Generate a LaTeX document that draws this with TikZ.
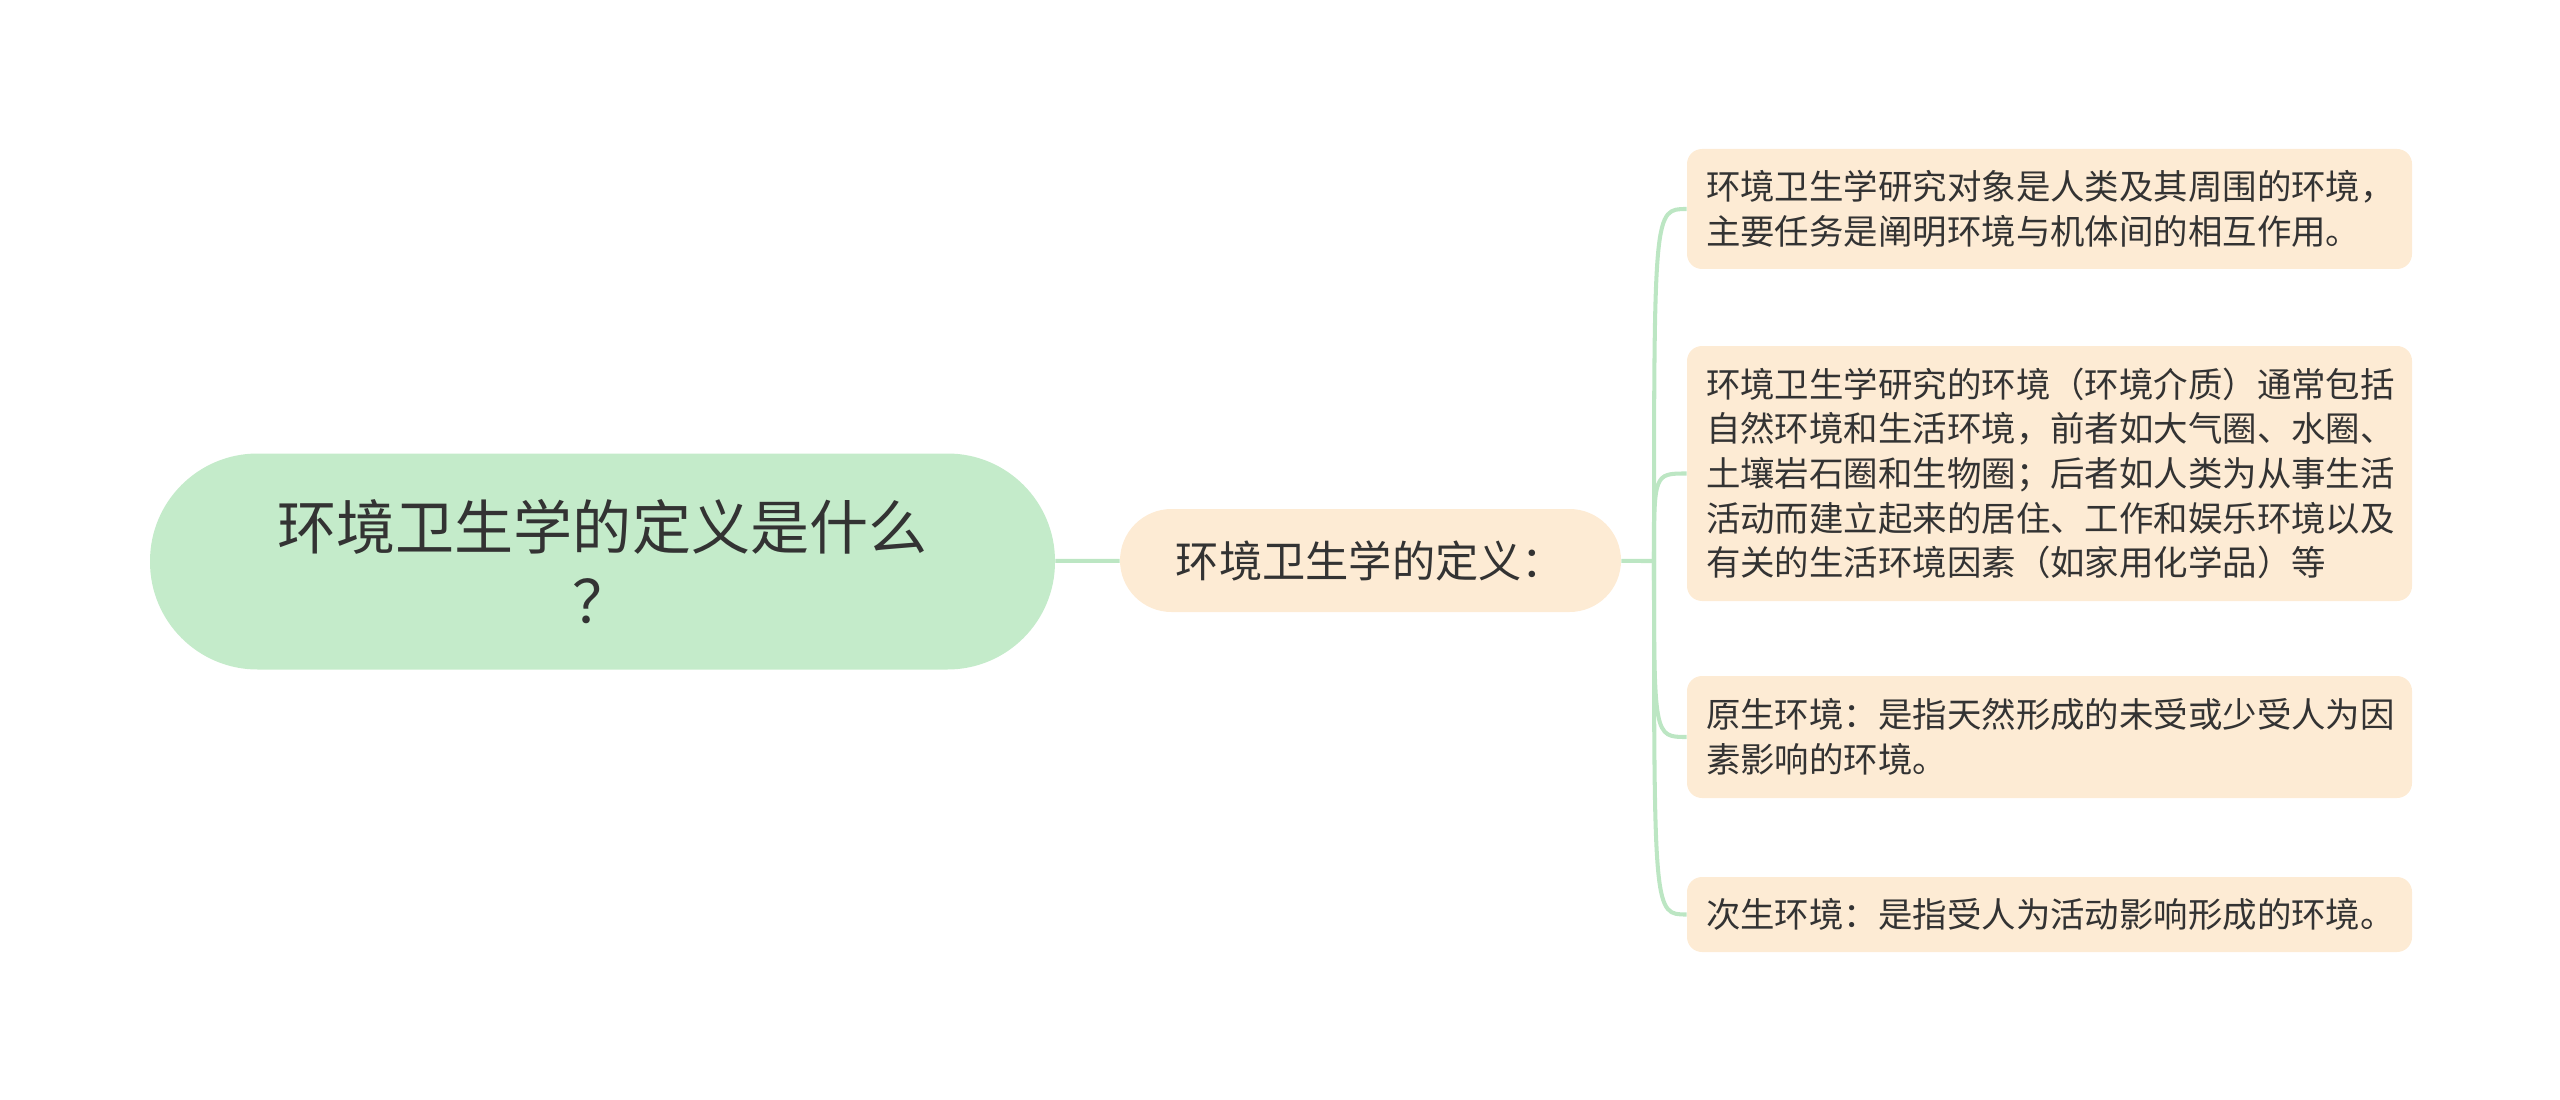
\documentclass[tikz,border=0pt]{standalone}
\usepackage{fontspec}
\setmainfont{Noto Sans CJK SC}
\usepackage{tikz}
\usetikzlibrary{positioning}

\definecolor{rootgreen}{HTML}{C4EBCA}
\definecolor{leafpeach}{HTML}{FDEBD4}
\definecolor{linkgreen}{HTML}{BCE6C3}
\definecolor{textgray}{HTML}{333333}

\begin{document}
\begin{tikzpicture}[
            root/.style = {rectangle, fill=rootgreen, rounded corners=2.15cm, minimum width=18.1cm, minimum height=4.32cm, align=center, text=textgray, font=\fontsize{33.6pt}{42pt}\selectfont},
            topic/.style = {rectangle, fill=leafpeach, rounded corners=1.03cm, minimum width=10.02cm, minimum height=2.06cm, text=textgray, font=\fontsize{24.6pt}{28pt}\selectfont},
            leaf/.style = {rectangle, fill=leafpeach, rounded corners=0.3cm, text width=13.74cm, inner xsep=0.38cm, inner ysep=0.1cm, align=left, text=textgray, font=\fontsize{19.6pt}{25.4pt}\selectfont},
            link/.style = {draw=linkgreen, line width=2.3pt},
        ]
            \useasboundingbox (0,0) rectangle (51.2,-22);

            % Root and topic
            \node[root] (root) at (12.05,-11.23) {环境卫生学的定义是什么\\？};
            \node[topic] (def) at (27.41,-11.21) {环境卫生学的定义：};

            % Leaves
            \node[leaf, minimum height=2.4cm] (leaf1) at (40.99,-4.18) {环境卫生学研究对象是人类及其周围的环境，\\主要任务是阐明环境与机体间的相互作用。};
            \node[leaf, minimum height=5.1cm] (leaf2) at (40.99,-9.47) {环境卫生学研究的环境（环境介质）通常包括\\自然环境和生活环境，前者如大气圈、水圈、\\土壤岩石圈和生物圈；后者如人类为从事生活\\活动而建立起来的居住、工作和娱乐环境以及\\有关的生活环境因素（如家用化学品）等};
            \node[leaf, minimum height=2.44cm] (leaf3) at (40.99,-14.74) {原生环境：是指天然形成的未受或少受人为因\\素影响的环境。};
            \node[leaf, minimum height=1.5cm] (leaf4) at (40.99,-18.29) {次生环境：是指受人为活动影响形成的环境。};

            % Links
            \coordinate (fork) at (33.08,-11.22);
            \draw[link] (root) -- (def);
            \draw[link] (def) -- (fork);
            \draw[link] (fork) .. controls (fork |- leaf1.west) .. (leaf1.west);
            \draw[link] (fork) .. controls (fork |- leaf2.west) .. (leaf2.west);
            \draw[link] (fork) .. controls (fork |- leaf3.west) .. (leaf3.west);
            \draw[link] (fork) .. controls (fork |- leaf4.west) .. (leaf4.west);

        \end{tikzpicture}
\end{document}
